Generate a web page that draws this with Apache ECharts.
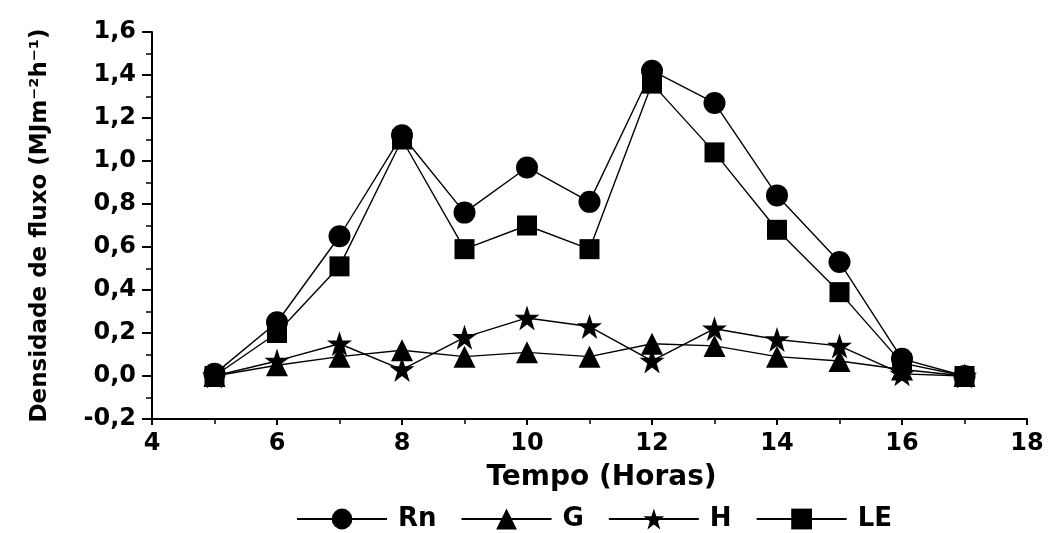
<!DOCTYPE html>
<html><head><meta charset="utf-8">
<script src="https://cdn.jsdelivr.net/npm/echarts@6/dist/echarts.min.js"></script>
<style>html,body{margin:0;padding:0;background:#fff}#c{width:1050px;height:533px}</style>
</head><body><div id="c"></div>
<script>
const hours = [5, 6, 7, 8, 9, 10, 11, 12, 13, 14, 15, 16, 17];
const Rn = [0.01, 0.25, 0.65, 1.12, 0.76, 0.97, 0.81, 1.42, 1.27, 0.84, 0.53, 0.08, 0.00];
const G  = [0.00, 0.05, 0.09, 0.12, 0.09, 0.11, 0.09, 0.15, 0.14, 0.09, 0.07, 0.03, 0.00];
const H  = [0.00, 0.07, 0.15, 0.03, 0.18, 0.27, 0.23, 0.07, 0.22, 0.17, 0.14, 0.01, 0.00];
const LE = [0.00, 0.20, 0.51, 1.10, 0.59, 0.70, 0.59, 1.36, 1.04, 0.68, 0.39, 0.06, 0.00];
const seriesNames = ['Rn', 'G', 'H', 'LE'];

const STAR = 'path://M50,0 L61.8,35.4 L100,35.4 L69.1,57.3 L80.9,95.1 L50,72.4 L19.1,95.1 L30.9,57.3 L0,35.4 L38.2,35.4 Z';
const FONT = '"DejaVu Sans", "Liberation Sans", Arial, sans-serif';

function mk(name, vals, symbol, size) {
  return {
    name: name, type: 'line',
    data: hours.map((h, i) => [h, vals[i]]),
    symbol: symbol, symbolSize: size,
    lineStyle: {color: '#000', width: 1.4},
    itemStyle: {color: '#000'},
    z: 2
  };
}

const chart = echarts.init(document.getElementById('c'), null, {renderer: 'canvas'});
chart.setOption({
  animation: false,
  backgroundColor: '#fff',
  grid: {left: 152, right: 23, top: 32, bottom: 114, containLabel: false},
  legend: {
    data: seriesNames,
    top: 506, left: 296, padding: 0,
    itemWidth: 90, itemHeight: 26, itemGap: 24,
    textStyle: {fontFamily: FONT, fontWeight: 'bold', fontSize: 26, color: '#000', padding: [0, 0, 0, 6]}
  },
  xAxis: {
    type: 'value', min: 4, max: 18, interval: 2,
    name: 'Tempo (Horas)', nameLocation: 'middle', nameGap: 45,
    nameTextStyle: {fontFamily: FONT, fontWeight: 'bold', fontSize: 28, color: '#000', padding: [0, 0, 0, 24]},
    axisLine: {show: true, onZero: false, lineStyle: {color: '#000', width: 2}},
    axisTick: {show: true, inside: false, length: 6, lineStyle: {color: '#000', width: 2}},
    minorTick: {show: true, splitNumber: 2, length: 5, lineStyle: {color: '#000', width: 1.5}},
    splitLine: {show: false},
    axisLabel: {fontFamily: FONT, fontWeight: 'bold', fontSize: 24, color: '#000', margin: 13}
  },
  yAxis: {
    type: 'value', min: -0.2, max: 1.6, interval: 0.2,
    name: 'Densidade de fluxo (MJm⁻²h⁻¹)', nameLocation: 'middle', nameGap: 100, nameRotate: 90,
    nameTextStyle: {fontFamily: FONT, fontWeight: 'bold', fontSize: 23, color: '#000'},
    axisLine: {show: true, onZero: false, lineStyle: {color: '#000', width: 2}},
    axisTick: {show: true, inside: false, length: 10, lineStyle: {color: '#000', width: 2}},
    minorTick: {show: true, splitNumber: 2, length: 6, lineStyle: {color: '#000', width: 1.5}},
    splitLine: {show: false},
    axisLabel: {
      fontFamily: FONT, fontWeight: 'bold', fontSize: 24, color: '#000', margin: 16,
      formatter: v => v.toFixed(1).replace('.', ',')
    }
  },
  series: [
    mk('Rn', Rn, 'circle', 22),
    mk('G', G, 'triangle', 22),
    mk('H', H, STAR, 25),
    mk('LE', LE, 'rect', 20)
  ]
});
</script>
</body></html>
